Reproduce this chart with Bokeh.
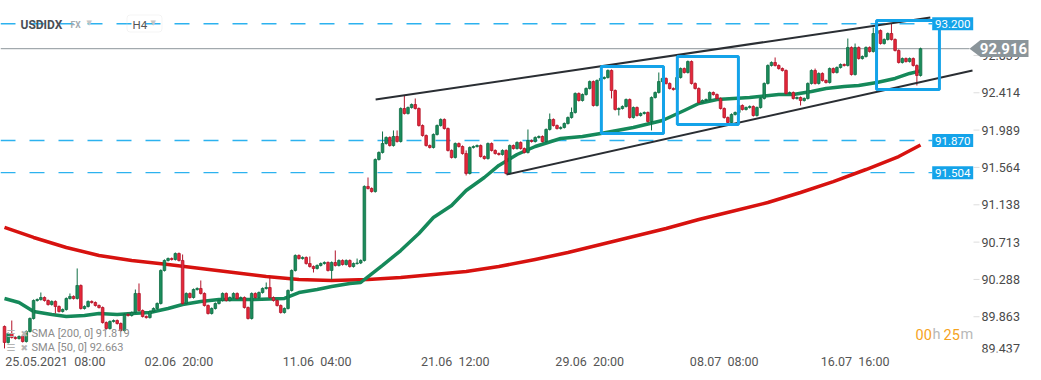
from bokeh.plotting import figure
from bokeh.models import (Range1d, Label, BoxAnnotation, PolyAnnotation, FixedTicker)
from bokeh.embed import file_html
from bokeh.resources import INLINE

FONT = "Roboto"

# ---------------- data ----------------
first_open = 89.752
closes = [
    89.570, 89.672, 89.627, 89.615, 89.638, 89.581, 89.695, 89.843, 90.048, 90.059,
    90.082, 90.048, 90.002, 90.037, 89.980, 89.923, 89.945, 90.071, 90.094, 90.071,
    90.219, 89.957, 89.980, 90.037, 90.025, 89.991, 89.968, 89.797, 89.729, 89.809,
    89.820, 89.786, 89.706, 89.889, 89.877, 89.911, 90.128, 89.934, 89.866, 89.854,
    89.923, 89.957, 90.014, 90.390, 90.504, 90.526, 90.515, 90.583, 90.504, 90.014,
    90.128, 90.082, 90.173, 90.185, 90.128, 89.991, 89.900, 89.957, 90.014, 90.048,
    90.128, 90.048, 90.082, 90.128, 90.071, 90.082, 89.968, 89.843, 90.128, 90.082,
    90.139, 90.185, 90.196, 90.082, 90.048, 89.991, 89.911, 89.957, 90.162, 90.390,
    90.561, 90.526, 90.538, 90.469, 90.435, 90.413, 90.447, 90.469, 90.481, 90.390,
    90.481, 90.447, 90.504, 90.458, 90.504, 90.435, 90.469, 90.475, 90.504, 91.347,
    91.324, 91.289, 91.654, 91.734, 91.836, 91.905, 91.813, 91.916, 91.859, 92.235,
    92.178, 92.246, 92.280, 92.235, 92.041, 91.927, 91.813, 91.791, 91.939, 92.041,
    92.110, 92.007, 91.757, 91.677, 91.836, 91.802, 91.722, 91.495, 91.791, 91.802,
    91.813, 91.688, 91.665, 91.836, 91.757, 91.722, 91.711, 91.757, 91.495, 91.813,
    91.779, 91.848, 91.779, 91.734, 91.870, 91.859, 91.905, 91.916, 91.859, 91.996,
    92.110, 92.041, 92.007, 92.019, 92.064, 92.132, 92.189, 92.406, 92.326, 92.394,
    92.463, 92.542, 92.269, 92.554, 92.577, 92.588, 92.668, 92.440, 92.224, 92.235,
    92.258, 92.337, 92.132, 92.246, 92.155, 92.178, 92.189, 92.087, 92.360, 92.417,
    92.542, 92.577, 92.520, 92.463, 92.451, 92.588, 92.690, 92.645, 92.770, 92.520,
    92.463, 92.303, 92.326, 92.337, 92.417, 92.394, 92.349, 92.235, 92.132, 92.075,
    92.167, 92.189, 92.269, 92.224, 92.246, 92.258, 92.155, 92.246, 92.349, 92.520,
    92.725, 92.759, 92.725, 92.690, 92.668, 92.406, 92.417, 92.349, 92.360, 92.326,
    92.349, 92.520, 92.668, 92.520, 92.634, 92.554, 92.531, 92.690, 92.645, 92.702,
    92.736, 92.725, 92.930, 92.622, 92.930, 92.804, 92.827, 92.930, 92.884, 93.089,
    93.123, 92.975, 93.021, 93.089, 93.021, 92.896, 92.759, 92.804, 92.770, 92.804,
    92.725, 92.611, 92.916,
]
wick_highs = {0: 89.763, 2: 89.820, 10: 90.139, 18: 90.128, 20: 90.413, 36: 90.173,
              37: 90.242, 49: 90.572, 54: 90.276, 72: 90.253, 73: 90.310, 84: 90.549,
              91: 90.618, 97: 90.526, 100: 91.449, 104: 91.973, 107: 91.985, 108: 91.985,
              110: 92.383, 113: 92.349, 127: 91.757, 144: 91.996, 150: 92.178,
              156: 92.246, 180: 92.645, 212: 92.816, 223: 92.690, 232: 93.032,
              234: 92.975, 239: 93.157, 244: 93.203}
wick_lows = {0: 89.502, 14: 89.900, 85: 90.367, 90: 90.287, 127: 91.472, 138: 91.483,
             167: 92.349, 169: 92.155, 178: 91.985, 219: 92.269, 251: 92.497}

sma200_bar = [0, 8, 17, 26, 35, 45, 54, 63, 72, 81, 90, 100, 109, 118, 127, 136, 146,
              155, 164, 173, 182, 191, 200, 210, 219, 228, 237, 246, 252]
sma200 = [90.880, 90.766, 90.652, 90.561, 90.504, 90.458, 90.412, 90.367, 90.321,
          90.287, 90.276, 90.287, 90.310, 90.344, 90.378, 90.435, 90.515, 90.595,
          90.686, 90.777, 90.868, 90.971, 91.062, 91.164, 91.278, 91.403, 91.540,
          91.688, 91.819]
sma50_bar = [0, 4, 8, 13, 17, 22, 26, 31, 35, 40, 45, 49, 54, 59, 68, 77, 81, 86, 90,
             95, 98, 99, 104, 109, 114, 118, 123, 127, 132, 136, 141, 146, 153, 159,
             164, 173, 181, 187, 191, 196, 205, 213, 217, 222, 226, 231, 235, 240,
             245, 249, 252]
sma50 = [90.071, 90.025, 89.923, 89.889, 89.866, 89.877, 89.900, 89.889, 89.900,
         89.911, 89.957, 90.002, 90.037, 90.059, 90.059, 90.071, 90.139, 90.173,
         90.207, 90.242, 90.253, 90.287, 90.447, 90.617, 90.811, 90.993, 91.130,
         91.301, 91.449, 91.586, 91.711, 91.802, 91.893, 91.916, 91.950, 92.019,
         92.098, 92.212, 92.292, 92.337, 92.360, 92.394, 92.394, 92.428, 92.463,
         92.485, 92.497, 92.531, 92.577, 92.634, 92.663]

levels = [93.200, 91.870, 91.504]
last_price = 92.916
sma_legend = [("SMA [200, 0]", 91.819), ("SMA [50, 0]", 92.663)]
price_ticks = [89.437, 89.863, 90.288, 90.713, 91.138, 91.564, 91.989, 92.414, 92.839]
date_bars = [0.0, 38.2, 76.2, 114.2, 151.3, 188.2, 224.8]
date_labels = ["25.05.2021\u00a0 08:00", "02.06\u00a0 20:00", "11.06\u00a0 04:00",
               "21.06\u00a0 12:00", "29.06\u00a0 20:00", "08.07\u00a0 08:00",
               "16.07\u00a0 16:00"]
channel_upper_bar = [102.1, 254.7]
channel_upper_price = [92.337, 93.271]
channel_lower_bar = [138.1, 266.3]
channel_lower_price = [91.483, 92.668]
box_left = [164.2, 185.1, 239.9]
box_right = [181.3, 201.9, 257.2]
box_top = [92.713, 92.827, 93.237]
box_bottom = [91.950, 92.053, 92.451]

# ---------------- layout helpers ----------------
BAR_PX = 3.635
PX_PRICE = 0.01139


def X(px):  # page x -> bar coordinate
    return (px - 4) / BAR_PX


def Y(py):  # page y -> price
    return 93.465 - py * PX_PRICE


GREEN, GREEN_D = "#1c8c5c", "#0f6e45"
RED, RED_D = "#e6283a", "#b3142a"
BLUE = "#14a3e9"

p = figure(width=1041, height=380, x_range=Range1d(X(0), X(1041)),
           y_range=Range1d(Y(352), Y(0)), y_axis_location=None,
           output_backend="svg", toolbar_location=None,
           min_border_left=0, min_border_top=0, min_border_right=0, min_border_bottom=28)
p.grid.visible = False
p.outline_line_color = None
p.background_fill_color = "white"
p.border_fill_color = "white"

# horizontal levels (dashed up to their labels) and last-price line
x_start = X(0)
p.segment(x0=[x_start] * len(levels), y0=levels, x1=[X(931.7)] * len(levels), y1=levels,
          line_color="#2cb2ef", line_width=1.4, line_dash="15 14")
p.segment(x0=[x_start], y0=[last_price], x1=[X(969)], y1=[last_price],
          line_color="#8d969b", line_width=1)

# SMA lines
p.line(sma200_bar, sma200, line_color="#d7120f", line_width=3.5, line_join="round")
p.line(sma50_bar, sma50, line_color="#15895a", line_width=3.5, line_join="round")

# candles
n = len(closes)
xs = list(range(n))
opens = [first_open] + closes[:-1]
highs, lows, tops, bots, fills, lines = [], [], [], [], [], []
for i in range(n):
    o, c = opens[i], closes[i]
    hi, lo = max(o, c), min(o, c)
    highs.append(max(wick_highs.get(i, hi + 0.012), hi))
    lows.append(min(wick_lows.get(i, lo - 0.012), lo))
    tops.append(hi)
    bots.append(lo)
    up = c >= o
    fills.append(GREEN if up else RED)
    lines.append(GREEN_D if up else RED_D)
p.segment(xs, lows, xs, highs, line_color=lines, line_width=1)
p.vbar(x=xs, width=0.72, top=tops, bottom=bots, fill_color=fills, line_color=lines,
       line_width=0.8)

# channel lines and boxes
p.line(channel_upper_bar, channel_upper_price, line_color="#2a2e33", line_width=2)
p.line(channel_lower_bar, channel_lower_price, line_color="#2a2e33", line_width=2)
p.quad(left=box_left, right=box_right, top=box_top, bottom=box_bottom,
       fill_alpha=0, line_color=BLUE, line_width=3)

# right price scale (ticks + labels; lowest label kept inside the plot)
p.segment(x0=[X(973)] * len(price_ticks), y0=price_ticks, x1=[X(979)] * len(price_ticks),
          y1=price_ticks, line_color="#dddddd", line_width=1)
for t in price_ticks:
    p.add_layout(Label(x=X(981), y=max(t, Y(348)), text=f"{t:.3f}", text_font=FONT,
                       text_font_size="12.5px", text_color="#4a4a4a",
                       text_baseline="middle"))

# level labels
for lv in levels:
    p.add_layout(BoxAnnotation(left=X(931.7), right=X(972.7), top=lv + 6.5 * PX_PRICE,
                               bottom=lv - 6.5 * PX_PRICE, fill_color=BLUE, fill_alpha=1,
                               line_color=None, level="overlay"))
    p.add_layout(Label(x=X(952.2), y=lv, text=f"{lv:.3f}", text_color="white",
                       text_font=FONT, text_font_size="11.5px", text_align="center",
                       text_baseline="middle", level="overlay"))

# last price tag
p.add_layout(PolyAnnotation(xs=[X(969), X(980), X(1028), X(1028), X(980)],
                            ys=[last_price, last_price + 8.6 * PX_PRICE,
                                last_price + 8.6 * PX_PRICE, last_price - 8.4 * PX_PRICE,
                                last_price - 8.4 * PX_PRICE],
                            fill_color="#8b959a", fill_alpha=1, line_color=None,
                            level="overlay"))
p.add_layout(Label(x=X(1003), y=last_price, text=f"{last_price:.3f}", text_color="white",
                   text_font=FONT, text_font_size="15px", text_font_style="bold",
                   text_align="center", text_baseline="middle", level="overlay"))

# header
hy = Y(24)
p.add_layout(Label(x=X(20), y=hy, text="USDIDX", text_font=FONT, text_font_size="12px",
                   text_font_style="bold", text_color="#4a4f55", text_baseline="middle"))
p.add_layout(Label(x=X(70), y=hy, text="FX", text_font=FONT, text_font_size="8.5px",
                   text_font_style="bold", text_color="#a3abb0", text_baseline="middle"))
p.add_layout(Label(x=X(86), y=Y(22), text="\u25bc", text_font="DejaVu Sans",
                   text_font_size="7px", text_color="#c6c6c6", text_baseline="middle"))
p.add_layout(BoxAnnotation(left=X(126.5), right=X(161.5), top=Y(14.5), bottom=Y(31.5),
                           fill_alpha=0, line_color="#dcdcdc", line_width=1,
                           border_radius=3))
p.add_layout(Label(x=X(132), y=hy, text="H4", text_font=FONT, text_font_size="11.5px",
                   text_color="#555555", text_baseline="middle"))
p.add_layout(Label(x=X(150), y=Y(22), text="\u25bc", text_font="DejaVu Sans",
                   text_font_size="7px", text_color="#c6c6c6", text_baseline="middle"))

# SMA legend
for k, (name, val) in enumerate(sma_legend):
    ly = Y(333 + 14 * k)
    p.add_layout(Label(x=X(6), y=ly, text="\u2630", text_font="DejaVu Sans",
                       text_font_size="10px", text_color="#b4b4b4", text_baseline="middle"))
    p.add_layout(Label(x=X(20), y=ly, text="\u2716", text_font="DejaVu Sans",
                       text_font_size="9px", text_color="#b4b4b4", text_baseline="middle"))
    p.add_layout(Label(x=X(31), y=ly, text=f"{name} {val:.3f}", text_font=FONT,
                       text_font_size="11px", text_color="#8c8c8c", text_baseline="middle"))

# countdown
for txt, px, col in [("00", 915, "#f6a31d"), ("h", 932, "#b8b8b8"),
                     ("25", 943, "#f6a31d"), ("m", 960, "#b8b8b8")]:
    p.add_layout(Label(x=X(px), y=Y(334), text=txt, text_font=FONT, text_font_size="14.5px",
                       text_color=col, text_baseline="middle", level="overlay"))

# bottom date axis (labels left-aligned at their bars)
DIGIT, DOT, COLON, SPACE = 0.5615, 0.2634, 0.2422, 0.248
size = 12.5


def text_w(s):
    w = 0
    for ch in s:
        if ch.isdigit():
            w += DIGIT
        elif ch == ".":
            w += DOT
        elif ch == ":":
            w += COLON
        else:
            w += SPACE
    return w * size


centers = [int(round(b + text_w(s) / 2 / BAR_PX)) for b, s in zip(date_bars, date_labels)]
xa = p.xaxis[0]
xa.ticker = FixedTicker(ticks=centers)
xa.major_label_overrides = {c: s for c, s in zip(centers, date_labels)}
xa.axis_line_color = None
xa.major_tick_out = 0
xa.major_tick_in = 0
xa.minor_tick_line_color = None
xa.major_label_standoff = 1
xa.major_label_text_font = FONT
xa.major_label_text_font_size = "12.5px"
xa.major_label_text_color = "#555555"

open("out.html", "w").write(file_html(p, INLINE))
